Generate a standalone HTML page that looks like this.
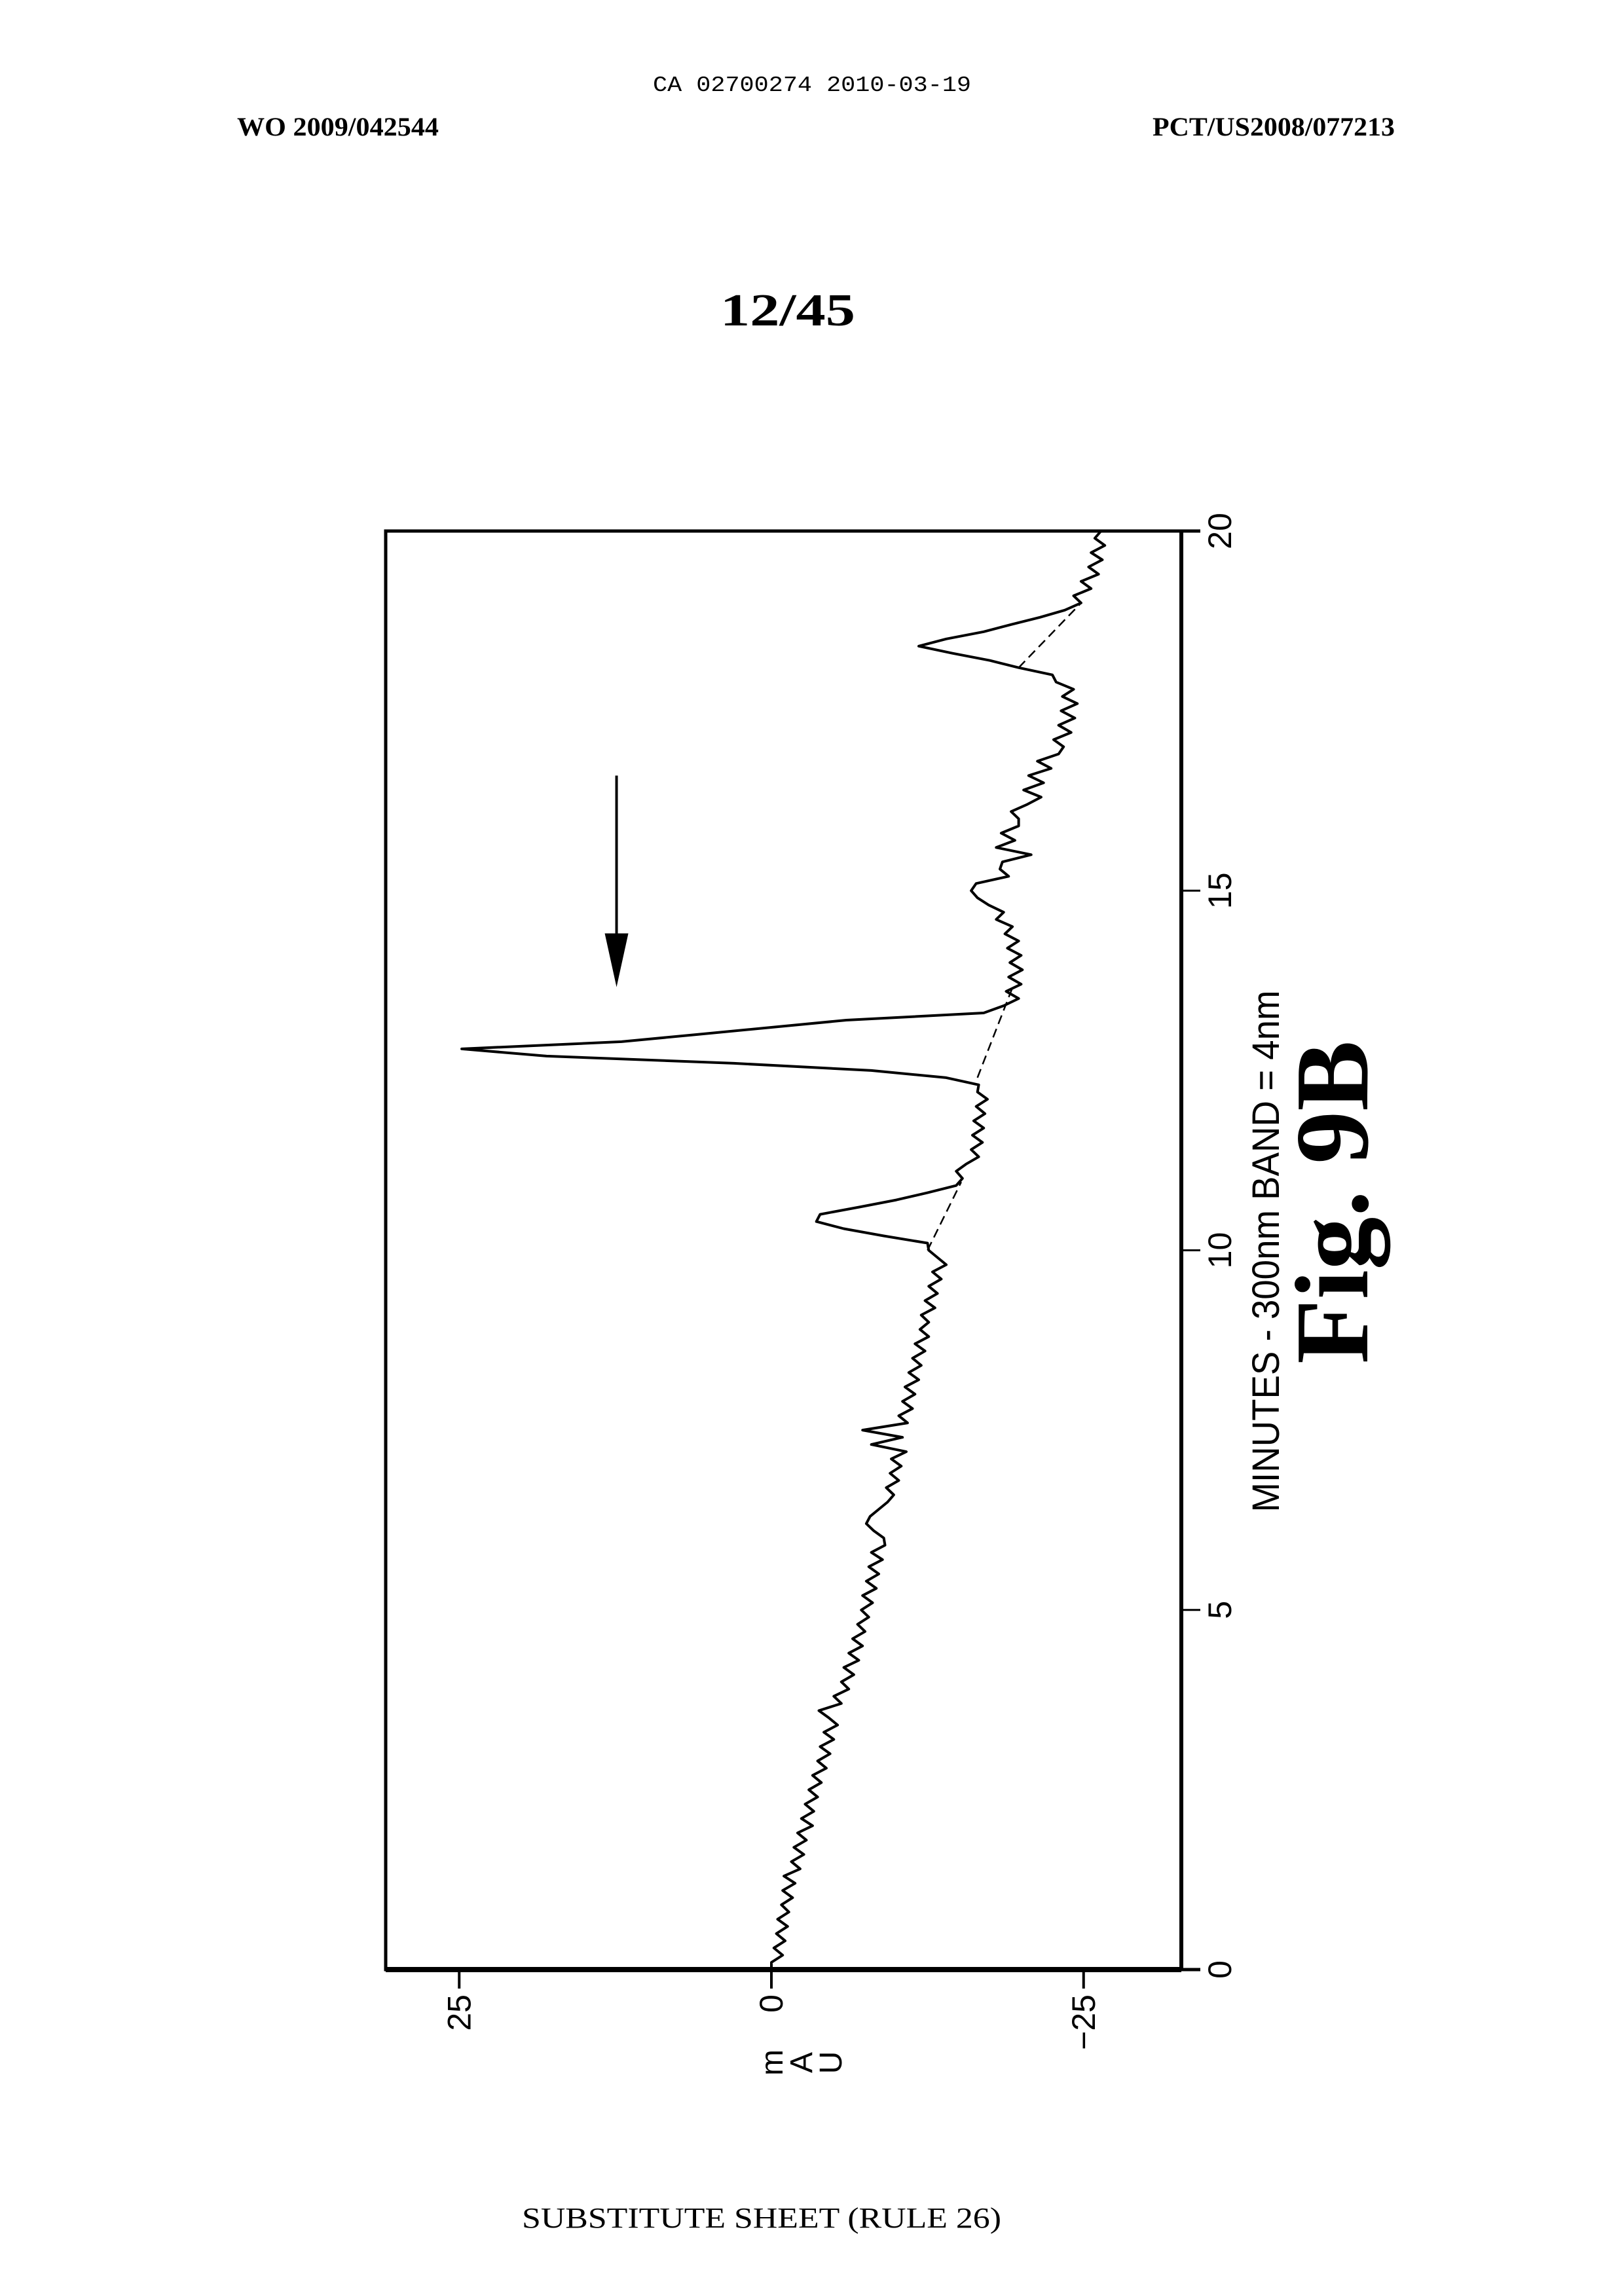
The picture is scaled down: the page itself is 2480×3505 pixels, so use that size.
<!DOCTYPE html>
<html><head><meta charset="utf-8"><style>
html,body{margin:0;padding:0;background:#fff;}
svg{display:block;}
</style></head><body>
<svg width="2480" height="3505" viewBox="0 0 2480 3505" xmlns="http://www.w3.org/2000/svg">
<rect x="0" y="0" width="2480" height="3505" fill="#fff"/>
<text x="1240" y="139" font-family="Liberation Mono, monospace" font-size="33" text-anchor="middle" textLength="486" lengthAdjust="spacingAndGlyphs">CA 02700274 2010-03-19</text>
<text x="362" y="207" font-family="Liberation Serif, serif" font-weight="bold" font-size="40" textLength="308" lengthAdjust="spacingAndGlyphs">WO 2009/042544</text>
<text x="1760" y="207" font-family="Liberation Serif, serif" font-weight="bold" font-size="40" textLength="370" lengthAdjust="spacingAndGlyphs">PCT/US2008/077213</text>
<text x="1100" y="497" font-family="Liberation Serif, serif" font-weight="bold" font-size="70" textLength="206" lengthAdjust="spacingAndGlyphs">12/45</text>
<text x="1163" y="3402" font-family="Liberation Serif, serif" font-size="44" text-anchor="middle" textLength="732" lengthAdjust="spacingAndGlyphs">SUBSTITUTE SHEET (RULE 26)</text>
<g id="chart"></g>
</svg>
<script>
const minuteTicks = [0, 5, 10, 15, 20];
const mauTicks = [25, 0, -25];
const mauTickLabels = ["25", "0", "\u221225"];
const signalStep = 0.1;
const signal = [
 0, 0, -0.9, -0.2, -1.1, -0.4, -1.3, -0.5, -1.4, -0.8, -1.7,
 -0.9, -1.9, -1.0, -2.3, -1.6, -2.6, -1.8, -2.8, -2.1, -3.3,
 -2.4, -3.4, -2.7, -3.7, -3.0, -4.0, -3.3, -4.4, -3.7, -4.7,
 -3.9, -5.0, -4.2, -5.3, -4.6, -3.8, -5.6, -5.0, -6.2, -5.6,
 -6.6, -5.8, -7.0, -6.2, -7.3, -6.5, -7.5, -6.9, -7.8, -7.2,
 -8.1, -7.3, -8.4, -7.6, -8.6, -7.8, -8.9, -8.0, -9.1, -9.0,
 -8.2, -7.6, -7.9, -8.6, -9.3, -9.8, -9.2, -10.2, -9.5, -10.4,
 -9.6, -10.8, -8.0, -10.5, -7.3, -10.9, -10.2, -11.3, -10.5, -11.5,
 -10.7, -11.8, -11.0, -12.0, -11.3, -12.3, -11.5, -12.6, -11.9, -12.6,
 -12.0, -13.1, -12.3, -13.3, -12.6, -13.6, -12.9, -14.0, -13.3, -12.6,
 -12.5, -9.0, -5.8, -3.6, -3.9, -7.0, -10.0, -12.5, -14.8, -15.3,
 -14.8, -15.6, -16.6, -16.0, -16.9, -16.1, -17.0, -16.2, -17.1, -16.4,
 -17.3, -16.5, -16.6, -14.0, -8.0, 3.0, 18.0, 24.8, 12.0, 6.0,
 0.0, -6.0, -17.0, -18.6, -19.8, -18.8, -20.0, -19.0, -20.1, -19.1,
 -20.0, -18.9, -19.8, -18.7, -19.3, -18.0, -18.6, -17.4, -16.5, -16.0,
 -16.4, -19.0, -18.3, -18.5, -20.8, -18.0, -19.5, -18.4, -19.8, -19.8,
 -19.2, -20.5, -21.6, -20.2, -21.8, -20.6, -22.4, -21.3, -23.0, -23.4,
 -22.6, -24.0, -23.0, -24.3, -23.2, -24.5, -23.3, -24.2, -22.8, -22.5,
 -19.8, -17.5, -14.5, -11.8, -14.0, -17.0, -19.2, -21.5, -23.5, -24.8,
 -24.2, -25.6, -24.8, -26.2, -25.4, -26.5, -25.6, -26.7, -25.9, -26.4
];
const baselineStarts = [10.0, 12.4, 18.1];
const baselineStartValues = [-12.5, -16.5, -19.8];
const baselineEnds = [10.95, 13.65, 19.0];
const baselineEndValues = [-15.2, -19.3, -24.8];
const arrowMau = 12.4;
const arrowFrom = 16.6;
const arrowTo = 13.66;

const NS = "http://www.w3.org/2000/svg";
const L = 589, R = 1804, T = 811, B = 3008;
function yT(t){ return B - t * (B - T) / 20; }
function xV(v){ return 1178 - v * 19.07; }
const g = document.getElementById('chart');
function mk(tag, attrs){ const e = document.createElementNS(NS, tag); for (const k in attrs) e.setAttribute(k, attrs[k]); g.appendChild(e); return e; }

const frame = mk('rect', {x:L, y:T, width:R-L, height:B-T, fill:'none', stroke:'#000', 'stroke-width':5});


const bottomAxis = mk('line', {x1:L, y1:B, x2:R, y2:B, stroke:'#000', 'stroke-width':8});


const rightAxis = mk('line', {x1:R, y1:T, x2:R, y2:B, stroke:'#000', 'stroke-width':6});



minuteTicks.forEach(function(t){
  const y = yT(t);
  const tk = mk('line', {x1:R, y1:y, x2:1833, y2:y, stroke:'#000', 'stroke-width':(t===0||t===20)?5:3});
  
  
  const lb = mk('text', {x:1880, y:y, transform:'rotate(-90 1880 '+y+')', 'text-anchor':'middle', 'font-family':'Liberation Sans, sans-serif', 'font-size':50});
  lb.textContent = String(t);
  
  
});
mauTicks.forEach(function(v, i){
  const x = xV(v);
  const tk = mk('line', {x1:x, y1:B, x2:x, y2:3037, stroke:'#000', 'stroke-width':4});
  
  
  const lb = mk('text', {x:x+17, y:3046, transform:'rotate(-90 '+(x+17)+' 3046)', 'text-anchor':'end', 'font-family':'Liberation Sans, sans-serif', 'font-size':50});
  lb.textContent = mauTickLabels[i];
  
  
});
["m","A","U"].forEach(function(ch, i){
  const x = 1178 + i * 45, y = 3150;
  const lb = mk('text', {x:x, y:y, transform:'rotate(-90 '+x+' '+y+')', 'text-anchor':'middle', 'font-family':'Liberation Sans, sans-serif', 'font-size':48, dy:'0.35em'});
  lb.textContent = ch;
  
  
});
const xt = mk('text', {x:1953, y:1911, transform:'rotate(-90 1953 1911)', 'text-anchor':'middle', 'font-family':'Liberation Sans, sans-serif', 'font-size':58, textLength:797, lengthAdjust:'spacingAndGlyphs'});
xt.textContent = 'MINUTES - 300nm BAND = 4nm';


const fig = mk('text', {x:2088, y:1836, transform:'rotate(-90 2088 1836)', 'text-anchor':'middle', 'font-family':'Liberation Serif, serif', 'font-weight':'bold', 'font-size':160, textLength:494, lengthAdjust:'spacingAndGlyphs'});
fig.textContent = 'Fig. 9B';



let d = '';
signal.forEach(function(v, i){ d += (i ? 'L' : 'M') + xV(v).toFixed(1) + ' ' + yT(i * signalStep).toFixed(1) + ' '; });
const trace = mk('path', {d:d, fill:'none', stroke:'#000', 'stroke-width':4, 'stroke-linejoin':'round'});



baselineStarts.forEach(function(t0, i){
  const bl = mk('line', {x1:xV(baselineStartValues[i]), y1:yT(t0), x2:xV(baselineEndValues[i]), y2:yT(baselineEnds[i]), stroke:'#000', 'stroke-width':2.5, 'stroke-dasharray':'14 8'});
  
  
});

const ax = xV(arrowMau);
const shaft = mk('line', {x1:ax, y1:yT(arrowFrom), x2:ax, y2:yT(arrowTo) - 60, stroke:'#000', 'stroke-width':4});


const head = mk('polygon', {points:(ax-18)+','+(yT(arrowTo)-82)+' '+(ax+18)+','+(yT(arrowTo)-82)+' '+ax+','+yT(arrowTo), fill:'#000'});


</script>
</body></html>
